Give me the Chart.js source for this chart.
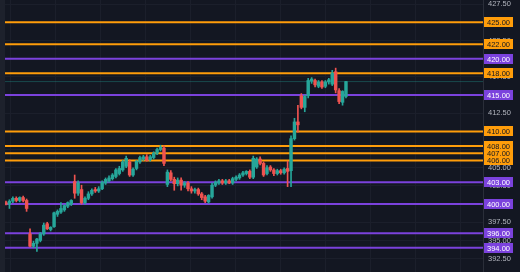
<!DOCTYPE html>
<html><head><meta charset="utf-8">
<script src="https://cdn.jsdelivr.net/npm/chart.js@4.4.0/dist/chart.umd.min.js"></script>
<style>html,body{margin:0;padding:0;background:#131722;overflow:hidden}#wrap{width:520px;height:272px}</style>
</head><body><div id="wrap"><canvas id="c" width="520" height="272"></canvas></div>
<script>
const opens  = [400.2,400.0,400.4,400.8,400.5,400.9,400.5,395.9,394.2,394.6,395.0,395.9,397.3,396.5,396.9,398.6,398.9,399.2,399.7,400.0,
                403.1,401.5,402.0,400.2,400.8,401.4,402.0,401.8,402.1,402.9,403.2,403.5,403.8,404.2,404.7,405.2,405.8,404.0,404.9,405.8,
                406.2,406.5,406.1,406.4,407.0,407.5,407.7,402.7,404.3,403.4,402.8,403.3,402.6,402.9,402.1,401.8,402.0,401.4,401.0,400.3,
                401.0,402.6,402.9,403.2,402.9,403.2,402.9,403.4,403.6,404.0,404.2,404.5,403.7,405.1,406.2,405.6,404.2,405.1,404.7,404.2,
                404.6,404.3,404.9,404.6,409.0,411.3,414.9,413.3,414.9,416.9,417.0,416.2,416.8,416.2,416.8,416.5,418.2,415.6,414.0,414.8];
const highs  = [400.4,400.6,401.0,401.0,401.0,401.1,400.7,396.6,394.9,395.3,396.1,397.4,397.5,396.9,398.9,399.2,400.2,399.9,400.3,400.6,
                404.0,403.2,402.6,401.0,401.7,402.1,402.3,402.4,403.2,403.6,403.9,404.2,404.9,405.2,406.0,406.6,406.1,405.0,406.0,406.6,
                406.7,406.8,406.7,407.2,407.7,408.1,408.0,404.7,404.6,403.7,403.6,403.6,403.1,403.1,402.4,402.2,402.2,401.6,401.2,401.3,
                402.9,403.2,403.4,403.4,403.4,403.4,403.7,403.9,404.2,404.5,404.6,404.7,406.6,406.4,406.5,405.8,405.3,405.3,404.9,404.8,
                404.8,405.0,405.9,409.4,411.8,413.6,415.2,415.0,417.3,417.4,417.2,417.0,417.0,417.0,417.3,418.4,418.7,415.9,415.6,416.9];
const lows   = [399.9,399.4,400.2,400.3,400.3,400.3,399.0,394.1,394.0,393.5,394.8,395.7,396.5,396.3,396.8,398.3,398.7,399.0,399.5,399.8,
                400.8,401.2,400.0,400.0,400.6,401.2,401.6,401.6,402.0,402.7,403.0,403.3,403.6,404.0,404.5,405.0,403.8,403.8,404.7,405.6,
                406.0,405.9,405.9,406.2,406.8,407.3,405.3,402.4,403.2,401.9,402.5,401.9,402.3,401.8,401.5,401.5,401.2,400.6,400.2,400.1,
                400.8,402.4,402.7,402.7,402.7,402.8,402.7,403.2,403.4,403.8,404.0,403.5,403.5,404.9,405.4,403.8,404.0,404.5,403.9,404.0,
                404.1,404.1,402.4,402.4,408.8,409.9,413.1,412.7,414.6,416.6,416.1,416.0,415.9,416.0,416.5,416.3,415.3,413.8,413.6,414.6];
const closes = [400.0,400.4,400.8,400.5,400.9,400.5,399.4,394.2,394.6,395.2,395.9,397.1,396.6,396.8,398.8,399.0,399.4,399.8,400.2,400.5,
                401.5,402.9,400.2,400.8,401.4,401.9,401.8,402.1,403.0,403.4,403.6,404.0,404.7,404.9,405.8,406.3,404.0,404.8,405.9,406.4,
                406.5,406.0,406.5,407.0,407.5,407.8,405.6,404.4,403.4,402.8,403.3,402.6,402.9,402.1,401.8,402.0,401.4,400.9,400.4,401.2,
                402.6,403.0,403.2,402.9,403.2,402.9,403.5,403.7,404.0,404.3,404.5,403.7,406.3,406.2,405.6,404.0,405.0,404.7,404.2,404.6,
                404.3,404.8,404.5,409.0,411.3,410.9,413.3,414.8,417.0,417.2,416.4,416.8,416.1,416.8,417.1,418.0,415.7,414.1,415.5,416.85];
const orangeLevels = [425, 422, 418, 410, 408, 407, 406];
const purpleLevels = [420, 415, 403, 400, 396, 394];
const priceTicks = [392.5, 395, 397.5, 400, 402.5, 405, 407.5, 410, 412.5, 415, 417.5, 420, 422.5, 425, 427.5];
const timeMarks = [7.9, 21.0, 34.1, 47.2, 60.3, 73.4, 86.5, 99.6, 112.7, 125.8];

const X_MIN = -0.29, X_MAX = 138.9, Y_MIN = 390.66, Y_MAX = 428.07;
const UP = '#26a69a', DOWN = '#ef5350', ORANGE = '#ff9d0a', PURPLE = '#7b42dd';
const BG = '#131722', GRID = '#1b1f2b';

const idx = opens.map((_, i) => i);
const candleColors = idx.map(i => closes[i] >= opens[i] ? UP : DOWN);
const bodies = idx.map(i => ({x: i, y: [opens[i], closes[i]]}));
const wicks = idx.map(i => ({x: i, y: [lows[i], highs[i]]}));
const lastClose = closes[closes.length - 1];

const levelSet = (vals, color, ord) => vals.map(v => ({
  type: 'line', data: [{x: X_MIN, y: v}, {x: X_MAX, y: v}], borderColor: color, borderWidth: 2,
  pointRadius: 0, order: ord
}));

const bgPlugin = {
  id: 'bg',
  beforeDraw(chart) {
    const c = chart.ctx;
    c.save();
    c.fillStyle = BG; c.fillRect(0, 0, chart.width, chart.height);
    c.fillStyle = '#1d212c'; c.fillRect(0, 0, chart.chartArea.left, chart.height);
    c.restore();
  }
};
const labelPlugin = {
  id: 'levelLabels',
  afterDraw(chart) {
    const c = chart.ctx, ys = chart.scales.y, left = chart.chartArea.right + 1;
    c.save();
    c.font = '7.5px "Liberation Sans", Arial, sans-serif';
    c.textAlign = 'center'; c.textBaseline = 'middle';
    const items = [];
    orangeLevels.forEach(v => items.push({v, bg: ORANGE, fg: '#131722'}));
    purpleLevels.forEach(v => items.push({v, bg: PURPLE, fg: '#ffffff'}));
    items.sort((a, b) => a.v - b.v);
    items.forEach(it => {
      const y = Math.round(ys.getPixelForValue(it.v));
      c.fillStyle = it.bg;
      c.fillRect(left, y - 5, 29, 10);
      c.fillStyle = it.fg;
      c.fillText(it.v.toFixed(2), left + 14.5, y + 0.5);
    });
    c.restore();
  }
};

new Chart(document.getElementById('c'), {
  type: 'bar',
  data: {
    datasets: [
      {type: 'bar', data: bodies, backgroundColor: candleColors, barThickness: 2.8, grouped: false, minBarLength: 1, borderWidth: 0, order: 0},
      {type: 'bar', data: wicks, backgroundColor: candleColors, barThickness: 1, grouped: false, borderWidth: 0, order: 1},
      ...levelSet(orangeLevels, ORANGE, 2),
      ...levelSet(purpleLevels, PURPLE, 2),
      {type: 'line', data: [{x: X_MIN, y: lastClose}, {x: X_MAX, y: lastClose}], borderColor: 'rgba(38,166,154,0.35)', borderWidth: 1, pointRadius: 0, order: 3}
    ]
  },
  options: {
    responsive: false,
    animation: false,
    devicePixelRatio: 1,
    layout: {padding: {left: 5, right: 0, top: 0, bottom: 0}, autoPadding: false},
    plugins: {legend: {display: false}, tooltip: {enabled: false}},
    scales: {
      x: {
        type: 'linear', min: X_MIN, max: X_MAX, offset: false,
        afterBuildTicks: s => { s.ticks = timeMarks.map(v => ({value: v})); },
        afterFit: s => { s.height = 0; s.paddingLeft = 0; s.paddingRight = 0; },
        ticks: {display: false},
        grid: {color: GRID, drawTicks: false},
        border: {display: false}
      },
      y: {
        position: 'right', min: Y_MIN, max: Y_MAX,
        afterBuildTicks: s => { s.ticks = priceTicks.map(v => ({value: v})); },
        afterFit: s => { s.width = 37; s.paddingTop = 0; s.paddingBottom = 0; },
        ticks: {color: '#b2b5be', font: {family: '"Liberation Sans", Arial, sans-serif', size: 7.5}, padding: 5,
                callback: v => Number(v).toFixed(2)},
        grid: {color: GRID, drawTicks: false},
        border: {display: true, color: '#2a2e39'}
      }
    }
  },
  plugins: [bgPlugin, labelPlugin]
});
</script></body></html>
